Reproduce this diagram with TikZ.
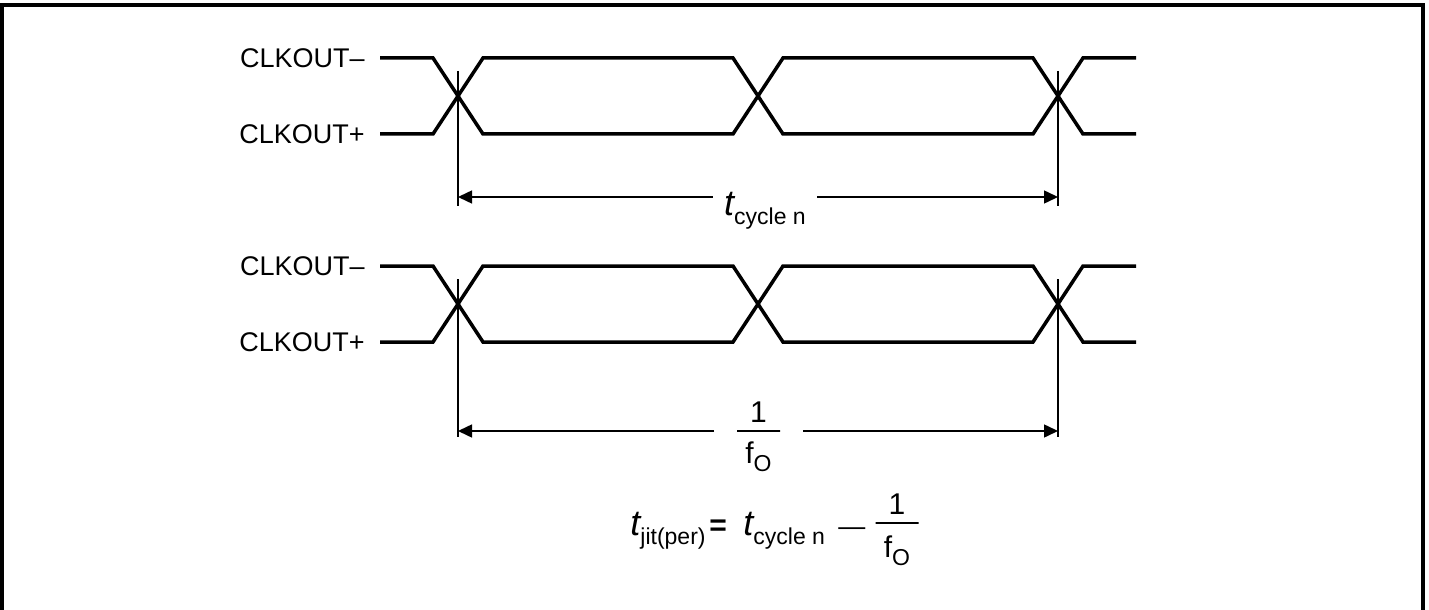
\documentclass[tikz,border=0pt]{standalone}
\usepackage{fontspec}
\setmainfont{Liberation Sans}
\usetikzlibrary{arrows.meta,positioning}

% time symbol with an upright subscript
\newcommand{\tsym}[1]{{\fontsize{18pt}{18pt}\selectfont\itshape t}{\fontsize{11.5pt}{11.5pt}\selectfont\raisebox{-4.5pt}{#1}}}
% frequency symbol
\newcommand{\fsym}{f{\fontsize{11.5pt}{11.5pt}\selectfont\raisebox{-4pt}{O}}}

\begin{document}
\begin{tikzpicture}[x=0.5pt, y=-0.5pt, >={Triangle[length=7pt,width=6.5pt]},
    wave/.style={line width=1.75pt},
    thinline/.style={line width=0.75pt},
    siglabel/.style={anchor=east, inner xsep=7.5pt, inner ysep=0pt,
      font=\fontsize{13.5pt}{13.5pt}\selectfont},
    tlabel/.style={inner xsep=5.5pt, inner ysep=0pt, text height=18pt, text depth=0pt},
    fracbar/.style={draw, line width=0.75pt, minimum width=21.5pt, minimum height=0pt,
      inner sep=0pt, outer xsep=11.5pt, outer ysep=0pt},
    fracpart/.style={inner sep=0pt, font=\fontsize{15pt}{15pt}\selectfont}]

    % Page size and frame (open at the bottom)
    \useasboundingbox (0,0) rectangle (1429,610);
    \draw[line width=2pt] (2,610) -- (2,5) -- (1423,5) -- (1423,610);

    % Upper clock pair
    \node[siglabel] (cm1) at (380,58) {CLKOUT–};
    \node[siglabel] (cp1) at (380,134) {CLKOUT+};
    \draw[wave] (cm1.east) -- (433,58) -- (483,134) -- (733,134) -- (783,58)
      -- (1033,58) -- (1083,134) -- (1136,134);
    \draw[wave] (cp1.east) -- (433,134) -- (483,58) -- (733,58) -- (783,134)
      -- (1033,134) -- (1083,58) -- (1136,58);

    % Lower clock pair
    \node[siglabel] (cm2) at (380,266) {CLKOUT–};
    \node[siglabel] (cp2) at (380,342) {CLKOUT+};
    \draw[wave] (cm2.east) -- (433,266) -- (483,342) -- (733,342) -- (783,266)
      -- (1033,266) -- (1083,342) -- (1136,342);
    \draw[wave] (cp2.east) -- (433,342) -- (483,266) -- (733,266) -- (783,342)
      -- (1033,342) -- (1083,266) -- (1136,266);

    % Crossing markers
    \coordinate (v1t) at (458,71);  \coordinate (v1b) at (458,206);
    \coordinate (v2t) at (1058,71); \coordinate (v2b) at (1058,206);
    \coordinate (v3t) at (458,279);  \coordinate (v3b) at (458,437);
    \coordinate (v4t) at (1058,279); \coordinate (v4b) at (1058,437);
    \draw[thinline] (v1t) -- (v1b);
    \draw[thinline] (v2t) -- (v2b);
    \draw[thinline] (v3t) -- (v3b);
    \draw[thinline] (v4t) -- (v4b);

    % Measured cycle
    \coordinate (a1l) at (458,197);
    \coordinate (a1r) at (1058,197);
    \node[tlabel] (tc1) at (765,197) {\tsym{cycle n}};
    \draw[thinline,->] (tc1) -- (a1l);
    \draw[thinline,->] (tc1) -- (a1r);

    % Ideal period
    \coordinate (a2l) at (458,431);
    \coordinate (a2r) at (1058,431);
    \node[fracbar] (fb1) at (758.5,431) {};
    \node[fracpart, above=4pt of fb1] (one1) {1};
    \node[fracpart, below=5pt of fb1] (fo1) {\fsym};
    \draw[thinline,->] (fb1) -- (a2l);
    \draw[thinline,->] (fb1) -- (a2r);

    % Definition
    \node[anchor=base west, inner sep=0pt] (tj) at (630,535) {\tsym{jit(per)}};
    \node[anchor=base west, inner sep=0pt,
      font=\fontsize{15pt}{15pt}\selectfont\bfseries] (eq) at (709,535) {=};
    \node[anchor=base west, inner sep=0pt] (tc2) at (743,535) {\tsym{cycle n}};
    \node[anchor=base west, inner sep=0pt,
      font=\fontsize{13.5pt}{13.5pt}\selectfont] (mn) at (838,535) {—};
    \node[fracbar] (fb2) at (897,523) {};
    \node[fracpart, above=4pt of fb2] (one2) {1};
    \node[fracpart, below=6pt of fb2] (fo2) {\fsym};
\end{tikzpicture}
\end{document}
